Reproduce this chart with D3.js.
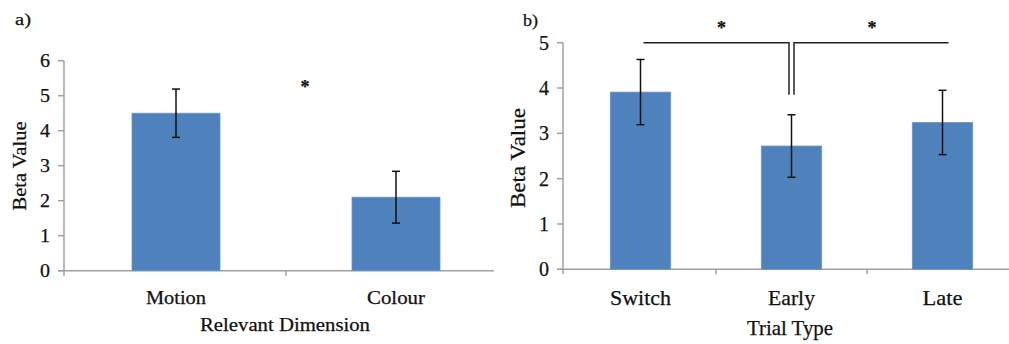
<!DOCTYPE html>
<html><head><meta charset="utf-8">
<script src="https://cdn.jsdelivr.net/npm/d3@7"></script>
<style>
html,body{margin:0;padding:0;background:#fff;}
</style></head>
<body><svg id="c" width="1009" height="344"></svg>
<script>
// Panel a data
const catsA = ["Motion", "Colour"];
const valsA = [4.5, 2.1];
const errA = [0.69, 0.74];
const ticksA = [0, 1, 2, 3, 4, 5, 6];
// Panel b data
const catsB = ["Switch", "Early", "Late"];
const valsB = [3.91, 2.72, 3.24];
const errB = [0.72, 0.69, 0.71];
const ticksB = [0, 1, 2, 3, 4, 5];
const bracketTop = 5.0, bracketBottom = 3.85;

const FONT = "'Liberation Serif', 'Times New Roman', Tinos, 'DejaVu Serif', serif";
const svg = d3.select("#c").attr("font-family", FONT);
const BAR = "#4f81bd", AX = "#a0a0a0", INK = "#111";

function txt(g, s, x, y, size, len, anchor, rot) {
  const t = g.append("text").attr("x", x).attr("y", y).attr("font-size", size)
    .attr("font-family", FONT).attr("fill", INK).attr("stroke", INK).attr("stroke-width", 0.25)
    .attr("text-anchor", anchor || "middle").text(s);
  if (len) t.attr("textLength", len).attr("lengthAdjust", "spacingAndGlyphs");
  if (rot) t.attr("transform", `rotate(-90,${x},${y})`);
  return t;
}

function panel(cfg) {
  const g = svg.append("g");
  const x = d3.scaleBand().domain(cfg.cats).range(cfg.xr).paddingInner(0.6).paddingOuter(0.3);
  const y = d3.scaleLinear().domain([0, cfg.max]).range(cfg.yr);
  const x0 = cfg.xr[0] - 2;
  // y axis
  g.append("line").attr("x1", x0).attr("x2", x0).attr("y1", y(cfg.max)).attr("y2", y(0) + 5)
    .attr("stroke", AX).attr("stroke-width", 1.5);
  g.selectAll(".yt").data(cfg.ticks).join("line").attr("x1", x0 - 6).attr("x2", x0)
    .attr("y1", d => y(d)).attr("y2", d => y(d)).attr("stroke", AX).attr("stroke-width", 1.5);
  g.selectAll(".yl").data(cfg.ticks).join("text").attr("x", x0 - 14).attr("y", d => y(d) + cfg.tdy)
    .attr("font-size", cfg.tfs).attr("text-anchor", "end").attr("font-family", FONT).attr("fill", INK)
    .attr("stroke", INK).attr("stroke-width", 0.25)
    .attr("textLength", cfg.tlen).attr("lengthAdjust", "spacingAndGlyphs").text(d => d);
  // x axis
  g.append("line").attr("x1", x0 - 6).attr("x2", cfg.xEnd).attr("y1", y(0)).attr("y2", y(0))
    .attr("stroke", AX).attr("stroke-width", 1.5);
  const step = x.step();
  const bounds = d3.range(1, cfg.cats.length).map(i => cfg.xr[0] + i * step);
  g.selectAll(".xt").data(bounds).join("line").attr("x1", d => d).attr("x2", d => d)
    .attr("y1", y(0)).attr("y2", y(0) + 5).attr("stroke", AX).attr("stroke-width", 1.5);
  // bars
  g.selectAll(".bar").data(cfg.cats).join("rect")
    .attr("x", d => x(d)).attr("width", x.bandwidth())
    .attr("y", (d, i) => y(cfg.vals[i])).attr("height", (d, i) => y(0) - y(cfg.vals[i]))
    .attr("fill", BAR).attr("stroke", "#6a96cc").attr("stroke-width", 0.8);
  // error bars
  cfg.cats.forEach((c, i) => {
    const cx = x(c) + x.bandwidth() / 2;
    const hi = y(cfg.vals[i] + cfg.errs[i]), lo = y(cfg.vals[i] - cfg.errs[i]);
    g.append("line").attr("x1", cx).attr("x2", cx).attr("y1", hi).attr("y2", lo).attr("stroke", "#111").attr("stroke-width", 1.5);
    [hi, lo].forEach(v => g.append("line").attr("x1", cx - 4).attr("x2", cx + 4).attr("y1", v).attr("y2", v).attr("stroke", "#111").attr("stroke-width", 1.5));
  });
  // category labels
  cfg.cats.forEach((c, i) => txt(g, c, x(c) + x.bandwidth() / 2, cfg.catY, cfg.cfs, cfg.catLen[i]));
  return {g, x, y};
}

const A = panel({cats: catsA, vals: valsA, errs: errA, ticks: ticksA, max: 6,
  xr: [66, 506], yr: [270.7, 60.7], xEnd: 494, tfs: 18, tdy: 6, tlen: 10,
  catY: 304, cfs: 18, catLen: [60, 58]});
txt(A.g, "Relevant Dimension", 285, 331, 19, 170);
txt(A.g, "Beta Value", 26, 166, 19, 89, "middle", true);
txt(A.g, "a)", 15, 25, 16, 16, "start");
txt(A.g, "*", 305, 93, 18, null).attr("font-weight", "bold");

const B = panel({cats: catsB, vals: valsB, errs: errB, ticks: ticksB, max: 5,
  xr: [565, 1018], yr: [269.3, 42.7], xEnd: 1009, tfs: 21, tdy: 7, tlen: 10,
  catY: 305, cfs: 21, catLen: [61, 47, 40]});
txt(B.g, "Trial Type", 790, 335, 21, 86);
txt(B.g, "Beta Value", 525, 158, 21, 100, "middle", true);
txt(B.g, "b)", 523, 26, 16, 15, "start");

// significance brackets
const xb = B.x, yb = B.y, bw = xb.bandwidth();
const cS = xb("Switch") + bw / 2 + 3, cE = xb("Early") + bw / 2, cL = xb("Late") + bw / 2 + 6;
const yt = yb(bracketTop), ybt = yb(bracketBottom);
B.g.append("path").attr("d", `M${cS},${yt}H${cE - 2.5}V${ybt}`).attr("fill", "none").attr("stroke", "#222").attr("stroke-width", 1.5);
B.g.append("path").attr("d", `M${cL},${yt}H${cE + 2.5}V${ybt}`).attr("fill", "none").attr("stroke", "#222").attr("stroke-width", 1.5);
txt(B.g, "*", (cS + cE) / 2 + 4, 34, 18, null).attr("font-weight", "bold");
txt(B.g, "*", (cE + cL) / 2 + 2, 34, 18, null).attr("font-weight", "bold");
</script></body></html>
